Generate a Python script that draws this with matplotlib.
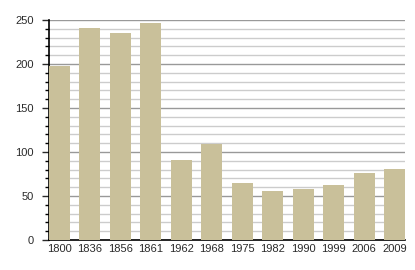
import matplotlib
matplotlib.use("Agg")
import matplotlib.pyplot as plt
from matplotlib.ticker import MultipleLocator
import numpy as np

years = ["1800", "1836", "1856", "1861", "1962", "1968", "1975", "1982", "1990", "1999", "2006", "2009"]
values = [198, 241, 235, 247, 91, 109, 65, 56, 58, 62, 76, 81]

plt.rcParams['font.family'] = ['Liberation Sans', 'DejaVu Sans']

fig = plt.figure(figsize=(4.15, 2.70), dpi=100)
ax = fig.add_axes([49/415, 30/270, 356/415, 220/270])

x = np.arange(len(years))
w = 0.69
ax.bar(x, values, width=w, color="#c9c09a", zorder=3)
ax.set_xlim(-w/2, len(years) - 1 + w/2)
ax.set_ylim(0, 250)
ax.set_xticks(x)
ax.set_xticklabels(years)
ax.yaxis.set_major_locator(MultipleLocator(50))
ax.yaxis.set_minor_locator(MultipleLocator(10))
ax.grid(axis='y', which='major', color="#999999", linewidth=1.0, zorder=0)
ax.grid(axis='y', which='minor', color="#cccccc", linewidth=1.0, zorder=0)
for s in ['top', 'right']:
    ax.spines[s].set_visible(False)
ax.spines['left'].set_linewidth(1.2)
ax.spines['bottom'].set_linewidth(1.2)
ax.tick_params(axis='x', length=0, labelsize=8, pad=3, colors='#2a2a2a')
ax.tick_params(axis='y', which='major', length=5, width=1, labelsize=8, pad=6, colors='#2a2a2a')
ax.tick_params(axis='y', which='minor', length=3, width=1)
fig.savefig("out.png", dpi=100)
